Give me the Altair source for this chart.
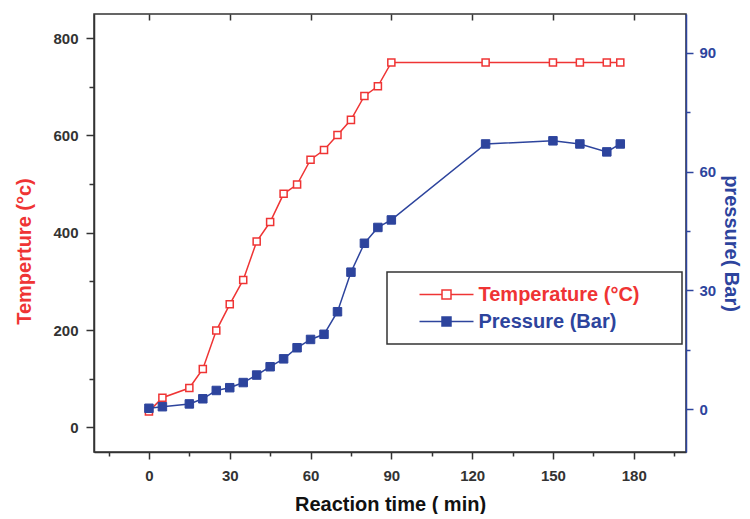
import altair as alt
import pandas as pd

# ---- data ----
time_min = [0, 5, 15, 20, 25, 30, 35, 40, 45, 50, 55, 60, 65, 70, 75, 80, 85, 90,
            125, 150, 160, 170, 175]
temperature = [33, 61, 81, 120, 199, 253, 303, 382, 422, 480, 499, 550, 570, 601,
               632, 681, 701, 750, 750, 750, 750, 750, 750]
pressure = [0.2, 0.6, 1.3, 2.6, 4.7, 5.4, 6.7, 8.6, 10.7, 12.7, 15.5, 17.6, 18.9,
            24.6, 34.6, 41.9, 45.9, 47.8, 67.0, 67.8, 67.0, 65.0, 67.0]
series_names = ["Temperature (°C)", "Pressure (Bar)"]
x_ticks = list(range(-15, 196, 15))
x_major = list(range(0, 181, 30))
temp_ticks = list(range(0, 801, 100))
press_ticks = list(range(0, 91, 15))

RED = "#ef3434"
BLUE = "#2d449d"
DARK = "#333333"
FONT = "Liberation Sans"
BLANK = "\u2800"  # blank glyph (not trimmed) used to widen the legend box

df_t = pd.DataFrame({"time": time_min, "value": temperature, "series": series_names[0]})
df_p = pd.DataFrame({"time": time_min, "value": pressure, "series": series_names[1]})

x_scale = alt.Scale(domain=[-20.4, 199.4], nice=False, zero=False)
t_scale = alt.Scale(domain=[-50.5, 849.5], nice=False, zero=False)
p_scale = alt.Scale(domain=[-10.85, 99.85], nice=False, zero=False)

LEG_PATH = "M-6,0H-1M1,0H6M-1,-1H1V1H-1Z"
legend = alt.Legend(
    title=None, orient="none", legendX=293, legendY=258,
    symbolType=LEG_PATH, symbolSize=81, symbolStrokeWidth=1.5,
    symbolOffset=37, labelOffset=22,
    labelFont=FONT, labelFontSize=20, labelFontWeight="bold",
    labelColor=alt.ExprRef(f"datum.value === 'Pressure (Bar)' ? '{BLUE}' : '{RED}'"),
    labelExpr="datum.label + '" + BLANK * 2 + "'", labelLimit=400,
    padding=12.5, rowPadding=7, strokeColor=DARK, fillColor="white",
)
stroke_enc = alt.Stroke("series:N", scale=alt.Scale(domain=series_names, range=[RED, BLUE]),
                        legend=legend)
fill_enc = alt.Fill("series:N", scale=alt.Scale(domain=series_names, range=["white", BLUE]),
                    legend=legend)

bottom_axis = alt.Axis(
    orient="bottom", values=x_ticks,
    labelExpr="datum.value % 30 == 0 ? datum.label : ''",
    tickSize={"condition": {"test": "datum.value % 30 == 0", "value": 7}, "value": 4},
    tickColor=DARK, tickWidth=1.5, domainColor=DARK, domainWidth=1.5,
    labelFont=FONT, labelFontSize=15, labelFontWeight="bold", labelColor=DARK,
    labelPadding=9, grid=False,
    title="Reaction time ( min)", titleFont=FONT, titleFontSize=20, titleFontWeight="bold",
    titleColor="#111111", titleY=58, titleBaseline="alphabetic", titleAnchor="middle",
)
left_axis = alt.Axis(
    orient="left", values=temp_ticks,
    labelExpr="datum.value % 200 == 0 ? datum.label : ''",
    tickSize={"condition": {"test": "datum.value % 200 == 0", "value": 8}, "value": 5},
    tickColor=DARK, tickWidth=1.5, domainColor=DARK, domainWidth=1.5,
    labelFont=FONT, labelFontSize=15, labelFontWeight="bold", labelColor=DARK,
    labelPadding=8, grid=False,
    title="Temperture (°c)", titleFont=FONT, titleFontSize=20, titleFontWeight="bold",
    titleColor=RED, titleAngle=270, titleX=-70, titleY=237, titleBaseline="middle",
    titleAlign="center",
)
right_axis = alt.Axis(
    orient="right", values=press_ticks,
    labelExpr="datum.value % 30 == 0 ? datum.label : ''",
    tickSize={"condition": {"test": "datum.value % 30 == 0", "value": 7}, "value": 4},
    tickColor=BLUE, tickWidth=1.5, domainColor=BLUE, domainWidth=1.5,
    labelFont=FONT, labelFontSize=15, labelFontWeight="bold", labelColor=BLUE,
    labelPadding=6, grid=False,
    title="pressure( Bar)", titleFont=FONT, titleFontSize=20, titleFontWeight="bold",
    titleColor=BLUE, titleAngle=90, titleX=44, titleY=229, titleBaseline="middle",
    titleAlign="center",
)
top_axis = alt.Axis(
    orient="top", values=x_major, labels=False, domain=False, grid=False,
    tickSize=6, tickColor=DARK, tickWidth=1.5, offset=-6, title=None,
)

t_line = alt.Chart(df_t).mark_line(strokeWidth=1.5).encode(
    x=alt.X("time:Q", scale=x_scale, axis=bottom_axis),
    y=alt.Y("value:Q", scale=t_scale, axis=left_axis),
    stroke=stroke_enc,
)
t_pts = alt.Chart(df_t).mark_square(size=50, strokeWidth=1.5, opacity=1).encode(
    x=alt.X("time:Q", scale=x_scale, axis=None),
    y=alt.Y("value:Q", scale=t_scale, axis=None),
    stroke=stroke_enc, fill=fill_enc,
)
p_line = alt.Chart(df_p).mark_line(strokeWidth=1.5).encode(
    x=alt.X("time:Q", scale=x_scale, axis=None),
    y=alt.Y("value:Q", scale=p_scale, axis=right_axis),
    stroke=stroke_enc,
)
p_pts = alt.Chart(df_p).mark_square(size=72, strokeWidth=1, opacity=1).encode(
    x=alt.X("time:Q", scale=x_scale, axis=None),
    y=alt.Y("value:Q", scale=p_scale, axis=None),
    stroke=stroke_enc, fill=fill_enc,
)
top_ticks = alt.Chart(pd.DataFrame({"time": x_major})).mark_rule(opacity=0).encode(
    x=alt.X("time:Q", scale=x_scale, axis=top_axis),
)

chart = (
    alt.layer(t_line, t_pts, p_line, p_pts, top_ticks)
    .resolve_scale(y="independent")
    .resolve_axis(x="independent", y="independent")
    .properties(
        width=592, height=438,
        padding={"left": 86, "top": 6, "right": 56, "bottom": 62},
        autosize=alt.AutoSizeParams(type="none"),
        background="white",
    )
    .configure_view(stroke=DARK, strokeWidth=1.5)
    .configure_legend(strokeWidth=1.5)
)

chart.save("out.html", embed_options={"renderer": "svg", "actions": False})
